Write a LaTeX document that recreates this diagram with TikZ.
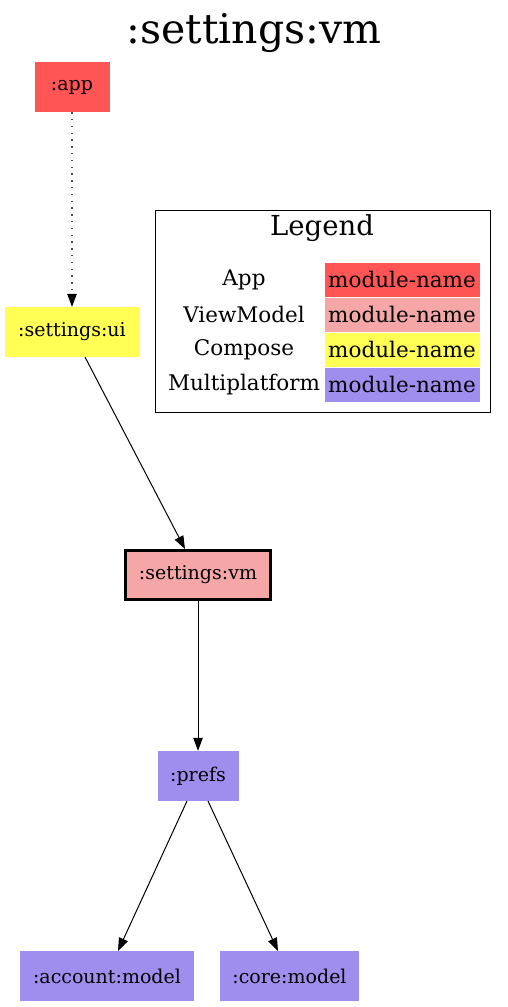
\documentclass[tikz,border=0pt]{standalone}
\usepackage{fontspec}
\setmainfont{DejaVu Serif}
\usetikzlibrary{arrows.meta}
\definecolor{appc}{HTML}{FF5555}
\definecolor{vmc}{HTML}{F5A6A6}
\definecolor{compc}{HTML}{FFFF55}
\definecolor{mpc}{HTML}{A08EEE}
\tikzset{
  mod/.style={inner sep=0pt, font=\fontsize{19}{21}\selectfont, minimum height=50pt},
  dep/.style={-{Triangle[length=13pt,width=9.5pt]}, line width=1pt},
  cell/.style={inner sep=0pt, minimum width=156pt, minimum height=35pt, font=\fontsize{21.5}{24}\selectfont, draw=white, line width=0.6pt},
  lbl/.style={inner sep=0pt, font=\fontsize{21.5}{24}\selectfont}
}
\begin{document}
\begin{tikzpicture}[x=1pt,y=-1pt]
\useasboundingbox (0,0) rectangle (508,1007);
\node[inner sep=0pt, font=\fontsize{41}{45}\selectfont] (title) at (254,33) {:settings:vm};
% modules
\node[mod, fill=appc, minimum width=75pt] (app) at (72,87) {:app};
\node[mod, fill=compc, minimum width=135pt] (ui) at (72,332) {:settings:ui};
\node[mod, fill=vmc, minimum width=145pt, minimum height=49pt, draw=black, line width=3pt] (vm) at (198,575) {:settings:vm};
\node[mod, fill=mpc, minimum width=81pt] (prefs) at (198,776) {:prefs};
\node[mod, fill=mpc, minimum width=174pt] (acc) at (107,976) {:account:model};
\node[mod, fill=mpc, minimum width=139pt] (core) at (289.5,976) {:core:model};
% edge end points
\coordinate (uis) at (85,357);
\coordinate (vmn) at (185,549);
\coordinate (pl) at (187,801);
\coordinate (accn) at (118,951);
\coordinate (pr) at (208,801);
\coordinate (coren) at (278,951);
% edges
\draw[-{Triangle[length=13pt,width=9.5pt,color=black,fill=black]}, line width=1.1pt, draw=black!70, dash pattern=on 1.4pt off 5.4pt] (app) -- (ui);
\draw[dep] (uis) -- (vmn);
\draw[dep] (vm) -- (prefs);
\draw[dep] (pl) -- (accn);
\draw[dep] (pr) -- (coren);
% legend
\node[draw=black, line width=0.8pt, minimum width=335pt, minimum height=202pt, inner sep=0pt] (legend) at (322.5,311) {};
\node[inner sep=0pt, font=\fontsize{27.5}{30}\selectfont] (legt) at (322,228) {Legend};
\node[cell, fill=appc] (c1) at (402,279.5) {module-name};
\node[cell, fill=vmc] (c2) at (402,314.5) {module-name};
\node[cell, fill=compc] (c3) at (402,349.5) {module-name};
\node[cell, fill=mpc] (c4) at (402,384.5) {module-name};
\node[lbl] (l1) at (244,279.5) {App};
\node[lbl] (l2) at (244,314.5) {ViewModel};
\node[lbl] (l3) at (244,349.5) {Compose};
\node[lbl] (l4) at (244,384.5) {Multiplatform};
\end{tikzpicture}
\end{document}
